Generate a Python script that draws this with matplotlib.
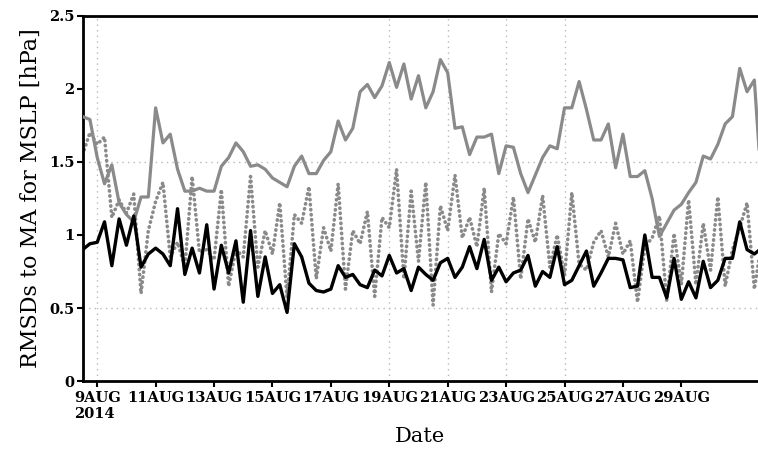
import numpy as np
import pandas as pd
import matplotlib
matplotlib.use('Agg')
import matplotlib.pyplot as plt

# 6-hourly series starting 2014-08-08 12Z
start = '2014-08-08 12:00'

gray_solid = [1.81, 1.79, 1.53, 1.35, 1.48, 1.22, 1.14, 1.09, 1.26, 1.26,
              1.87, 1.63, 1.69, 1.45, 1.30, 1.30, 1.32, 1.30, 1.30, 1.47,
              1.53, 1.63, 1.57, 1.47, 1.48, 1.45, 1.39, 1.36, 1.33, 1.47,
              1.54, 1.42, 1.42, 1.51, 1.57, 1.78, 1.65, 1.73, 1.98, 2.03,
              1.94, 2.02, 2.18, 2.01, 2.17, 1.93, 2.09, 1.87, 1.98, 2.20,
              2.11, 1.73, 1.74, 1.55, 1.67, 1.67, 1.69, 1.42, 1.61, 1.60,
              1.42, 1.29, 1.41, 1.53, 1.61, 1.59, 1.87, 1.87, 2.05, 1.86,
              1.65, 1.65, 1.76, 1.46, 1.69, 1.40, 1.40, 1.44, 1.25, 0.99,
              1.08, 1.17, 1.21, 1.29, 1.36, 1.54, 1.52, 1.62, 1.76, 1.81,
              2.14, 1.98, 2.06, 1.32]

gray_dotted = [1.55, 1.70, 1.62, 1.67, 1.12, 1.24, 1.15, 1.28, 0.60, 1.03,
               1.23, 1.36, 0.85, 0.95, 0.78, 1.40, 0.88, 0.90, 0.83, 1.31,
               0.65, 0.90, 0.85, 1.40, 0.78, 1.03, 0.87, 1.22, 0.57, 1.14,
               1.08, 1.33, 0.70, 1.05, 0.89, 1.35, 0.63, 1.03, 0.94, 1.16,
               0.58, 1.12, 1.05, 1.45, 0.70, 1.30, 0.82, 1.36, 0.52, 1.20,
               1.03, 1.41, 0.98, 1.12, 0.92, 1.32, 0.61, 1.01, 0.94, 1.26,
               0.70, 1.11, 0.95, 1.27, 0.78, 1.00, 0.72, 1.29, 0.80, 0.76,
               0.95, 1.03, 0.85, 1.08, 0.87, 0.96, 0.54, 0.92, 0.98, 1.13,
               0.55, 1.01, 0.66, 1.24, 0.66, 1.08, 0.76, 1.26, 0.65, 0.90,
               1.05, 1.22, 0.63, 0.95]

black_solid = [0.90, 0.94, 0.95, 1.09, 0.79, 1.11, 0.93, 1.13, 0.78, 0.87,
               0.91, 0.87, 0.79, 1.18, 0.73, 0.91, 0.74, 1.07, 0.63, 0.93,
               0.74, 0.96, 0.54, 1.03, 0.58, 0.85, 0.60, 0.66, 0.47, 0.94,
               0.85, 0.67, 0.62, 0.61, 0.63, 0.79, 0.71, 0.73, 0.66, 0.64,
               0.76, 0.72, 0.86, 0.74, 0.77, 0.62, 0.78, 0.73, 0.69, 0.81,
               0.84, 0.71, 0.78, 0.92, 0.77, 0.97, 0.69, 0.78, 0.68, 0.74,
               0.76, 0.86, 0.65, 0.75, 0.71, 0.92, 0.66, 0.69, 0.79, 0.89,
               0.65, 0.74, 0.84, 0.84, 0.83, 0.64, 0.65, 1.00, 0.71, 0.71,
               0.57, 0.84, 0.56, 0.68, 0.57, 0.82, 0.64, 0.69, 0.84, 0.84,
               1.09, 0.90, 0.87, 0.91]

tick_days = ['2014-08-%02d' % d for d in range(9, 30, 2)]
tick_labels = ['9AUG\n2014', '11AUG', '13AUG', '15AUG', '17AUG', '19AUG',
               '21AUG', '23AUG', '25AUG', '27AUG', '29AUG']
grid_days = ['2014-08-09', '2014-08-19', '2014-08-21', '2014-08-23', '2014-08-25']
ytick_vals = [0, 0.5, 1, 1.5, 2, 2.5]
ytick_labels = ['0', '0.5', '1', '1.5', '2', '2.5']

times = pd.date_range(start, periods=len(black_solid), freq='6h')

fig = plt.figure(figsize=(7.58, 4.5), dpi=100)
ax = fig.add_axes([0.109, 0.153, 0.891, 0.812])

gcol = '#8a8a8a'
for d in grid_days:
    ax.axvline(pd.Timestamp(d), color='#b8b8b8', lw=1.0, ls=(0, (1, 3)), zorder=1)
for v in [0.5, 1.5]:
    ax.axhline(v, color='#b8b8b8', lw=1.0, ls=(0, (1, 3)), zorder=1)

ax.plot(times, gray_dotted, color=gcol, lw=2.6, ls=(0, (0.1, 1.3)),
        dash_capstyle='round', zorder=2)
ax.plot(times, gray_solid, color=gcol, lw=2.3, zorder=3)
ax.plot(times, black_solid, color='black', lw=2.4, zorder=4)

ax.set_ylim(0, 2.5)
ax.set_xlim(pd.Timestamp(start), pd.Timestamp('2014-08-31 15:00'))
ax.set_yticks(ytick_vals)
ax.set_yticklabels(ytick_labels)
ax.set_xticks([pd.Timestamp(d) for d in tick_days])
ax.set_xticklabels(tick_labels, ha='center')
ax.get_xticklabels()[0].set_multialignment('left')
ax.tick_params(axis='x', which='major', length=4, width=1.5, pad=3)
ax.tick_params(axis='y', which='major', length=4, width=1.5, pad=2)
for lab in ax.get_xticklabels() + ax.get_yticklabels():
    lab.set_fontfamily('DejaVu Serif')
    lab.set_fontweight('bold')
    lab.set_fontsize(10.5)

for s in ['left', 'bottom', 'top']:
    ax.spines[s].set_linewidth(2)
ax.spines['right'].set_visible(False)

ax.set_ylabel('RMSDs to MA for MSLP [hPa]', family='DejaVu Serif', fontsize=16, labelpad=5)
ax.set_xlabel('Date', family='DejaVu Serif', fontsize=15, labelpad=4)

fig.savefig('out.png', dpi=100)
